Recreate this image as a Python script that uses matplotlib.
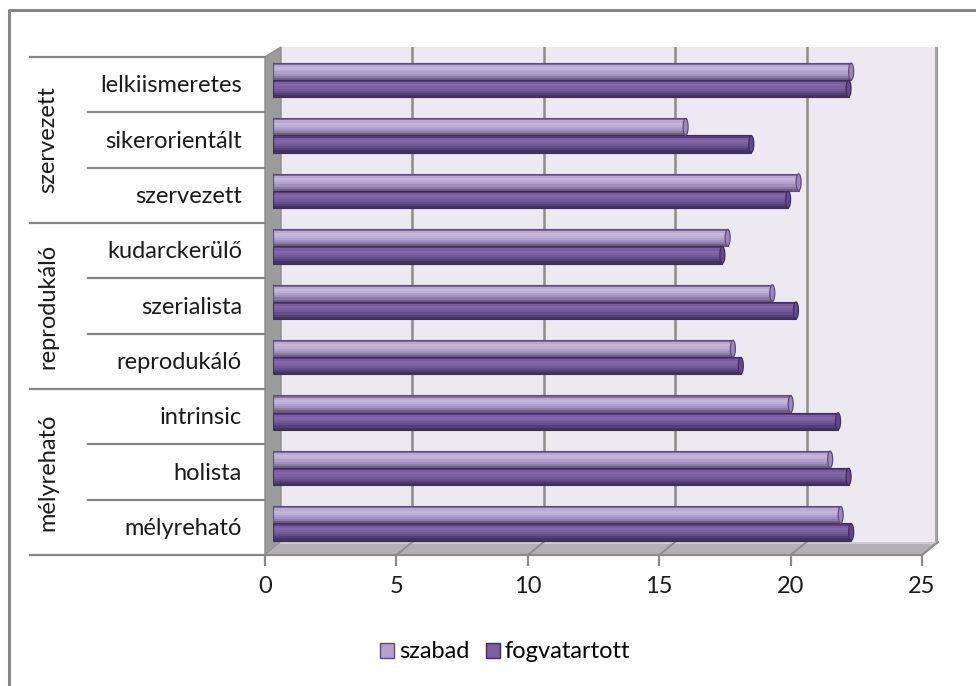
import numpy as np
import matplotlib
matplotlib.use("Agg")
import matplotlib.pyplot as plt
from matplotlib.patches import Polygon, Rectangle, Ellipse, Patch

plt.rcParams["font.family"] = ["Lato", "DejaVu Sans"]

# Learning-style scale means, bottom row first
categories = ["mélyreható", "holista", "intrinsic",
              "reprodukáló", "szerialista", "kudarckerülő",
              "szervezett", "sikerorientált", "lelkiismeretes"]
groups = ["mélyreható", "reprodukáló", "szervezett"]
szabad = [21.6, 21.2, 19.7, 17.5, 19.0, 17.3, 20.0, 15.7, 22.0]
fogvatartott = [22.0, 21.9, 21.5, 17.8, 19.9, 17.1, 19.6, 18.2, 21.9]
x_ticks = [0, 5, 10, 15, 20, 25]

W, H = 976, 686
FS = 17
fig = plt.figure(figsize=(W / 100, H / 100), dpi=100)


def frac(x0, y0, x1, y1):
    """pixel box (top-left origin) -> figure fraction rect"""
    return [x0 / W, 1 - y1 / H, (x1 - x0) / W, (y1 - y0) / H]


# background canvas in pixel units for the box, walls and label table
bg = fig.add_axes([0, 0, 1, 1], zorder=0)
bg.set_xlim(0, W)
bg.set_ylim(H, 0)
bg.axis("off")

bg.plot([9, 9, W], [H, 10, 10], color="#858585", lw=2.2)

# back wall, left wall and floor of the 3-D box
bg.add_patch(Rectangle((281, 47), 657, 495, fc="#ECE9F0", ec="none"))
bg.add_patch(Rectangle((935, 47), 3, 495, fc="#A5A5A8", ec="none"))
bg.add_patch(Polygon([(265, 57), (281, 47), (281, 542), (265, 555)],
                     closed=True, fc="#9C9C9C", ec="#8A8A8A", lw=1))
bg.add_patch(Polygon([(265, 555), (281, 542), (938, 542), (922, 555)],
                     closed=True, fc="#B3B1B6", ec="none"))
bg.plot([281, 938], [542.5, 542.5], color="#D2D0D5", lw=1.2)
bg.plot([938, 922], [542, 555], color="#9A9A9A", lw=1.2)

# category table on the left
row_h = (555 - 57) / 9
for i in range(10):
    y = 57 + i * row_h
    x0 = 30 if i % 3 == 0 else 88
    bg.plot([x0, 265], [y, y], color="#858585", lw=1.6)
for i, name in enumerate(categories[::-1]):
    bg.text(242, 57 + (i + 0.5) * row_h + 1, name, ha="right", va="center",
            fontsize=FS, color="#1a1a1a")
for g, name in enumerate(groups[::-1]):
    bg.text(48, 57 + (g * 3 + 1.5) * row_h, name, rotation=90,
            ha="center", va="center", fontsize=FS, color="#1a1a1a")

# back-wall gridlines
axb = fig.add_axes(frac(281, 47, 938, 542), zorder=1)
axb.set_xlim(0, 25)
axb.set_ylim(0, 1)
axb.patch.set_alpha(0)
axb.axis("off")
for t in x_ticks[1:]:
    axb.axvline(t, color="#8C8C8C", lw=1.8)

# front edge of the floor with the value ticks
axf = fig.add_axes(frac(265, 540, 922, 555), zorder=2)
axf.set_xlim(0, 25)
axf.set_ylim(0, 1)
axf.patch.set_alpha(0)
for s in ("top", "left", "right"):
    axf.spines[s].set_visible(False)
axf.spines["bottom"].set_color("#8A8A8A")
axf.spines["bottom"].set_linewidth(1.6)
axf.set_yticks([])
axf.set_xticks(x_ticks)
axf.tick_params(axis="x", length=8, width=1.6, color="#8A8A8A",
                labelsize=FS, pad=7, labelcolor="#1a1a1a")

# slanted tick lines across the floor
fig.canvas.draw()
for t in x_ticks[1:]:
    fx, _ = axf.transData.transform((t, 0))
    bx, _ = axb.transData.transform((t, 0))
    bg.plot([fx, bx], [555, 542], color="#8C8C8C", lw=1.4)

# bars at mid depth
ax = fig.add_axes(frac(273, 52.3, 930, 551.2), zorder=3)
ax.set_xlim(0, 25)
ax.set_ylim(-0.5, 8.5)
ax.patch.set_alpha(0)
ax.axis("off")

bar_h = 0.31
pos = np.arange(len(categories))
light_shades = ["#7d6c98", "#b8a8d2", "#c5b7dc", "#bdafd6", "#b1a0cb",
                "#a290bd", "#8c7ba3", "#6f5f88"]
dark_shades = ["#553f7b", "#7a5ea0", "#8467aa", "#7d62a3", "#73599a",
               "#664e8b", "#553f77", "#45335e"]
cap_w = 5 / 26.28


def cylinder(values, centers, shades, cap_fc, edge):
    n = len(shades)
    sh = bar_h / n
    for c, v in zip(centers, values):
        ax.add_patch(Ellipse((0, c), cap_w, bar_h * 0.97, fc=shades[3],
                             ec=edge, lw=0.8, zorder=2))
    for k, col in enumerate(shades):
        ax.barh(centers + bar_h / 2 - (k + 0.5) * sh, values, height=sh * 1.02,
                color=col, lw=0, zorder=3)
    ax.barh(centers, values, height=bar_h, fc="none", ec=edge, lw=0.8, zorder=4)
    for c, v in zip(centers, values):
        ax.add_patch(Ellipse((v, c), cap_w, bar_h * 0.97, fc=cap_fc,
                             ec=edge, lw=0.9, zorder=5))


cylinder(szabad, pos + bar_h / 2, light_shades, "#9c89b9", "#5e4b7e")
cylinder(fogvatartott, pos - bar_h / 2, dark_shades, "#634a8c", "#3f2d58")

handles = [Patch(fc="#b3a2cc", ec="#5e4b7e", lw=1),
           Patch(fc="#7a5e9f", ec="#3f2d58", lw=1)]
fig.legend(handles, ["szabad", "fogvatartott"], loc="center",
           bbox_to_anchor=(505 / W, 1 - 652 / H), ncol=2, frameon=False,
           fontsize=FS, handlelength=0.6, handleheight=0.6,
           handletextpad=0.2, columnspacing=0.7)

fig.savefig("out.png", dpi=100)
